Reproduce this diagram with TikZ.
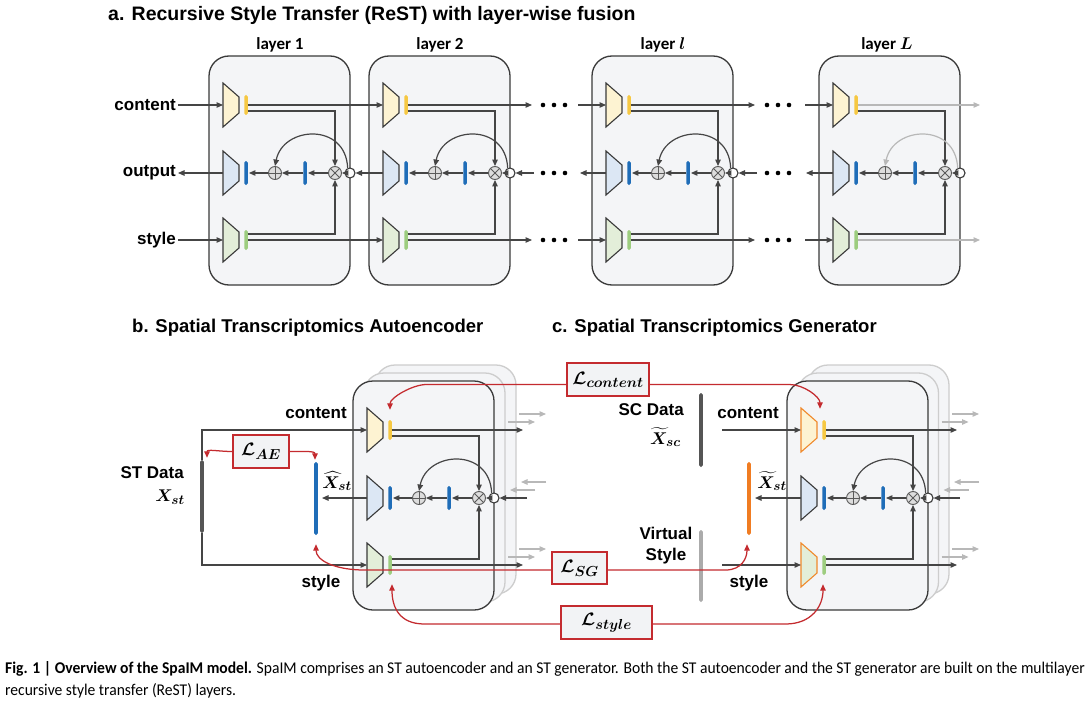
\documentclass[tikz,border=0pt]{standalone}
\usepackage{fix-cm}
\usepackage{amsmath}
\usepackage{fontspec}
\setmainfont{Liberation Sans}
\newfontfamily\calfont{Carlito}
\newfontfamily\capfont[FakeStretch=0.95]{Carlito}
\usepackage{bm}
\DeclareMathSizes{17}{17}{13.5}{11}
\DeclareMathSizes{18}{18}{14.5}{11.5}
\usetikzlibrary{arrows.meta,calc}
\pgfdeclarelayer{bg}
\pgfsetlayers{bg,main}

\definecolor{boxfill}{HTML}{F4F5F7}
\definecolor{boxline}{HTML}{3A3A3A}
\definecolor{arrowc}{HTML}{454545}
\definecolor{lightarr}{HTML}{B8B8B8}
\definecolor{backline}{HTML}{CDCDCD}
\definecolor{encY}{HTML}{FDF3D2}
\definecolor{encB}{HTML}{DCE7F4}
\definecolor{encG}{HTML}{E3EED9}
\definecolor{barY}{HTML}{F6C843}
\definecolor{barB}{HTML}{1F6DB8}
\definecolor{barG}{HTML}{9DCD7F}
\definecolor{opfill}{HTML}{DDDDDD}
\definecolor{opline}{HTML}{5A5A5A}
\definecolor{lossred}{HTML}{C42B2F}
\definecolor{lossfill}{HTML}{F2F3F5}
\definecolor{orangeE}{HTML}{F08A2C}
\definecolor{orangebar}{HTML}{F07C22}
\definecolor{stgray}{HTML}{555555}
\definecolor{vsgray}{HTML}{ABABAB}

\tikzset{
  arr/.style={draw=arrowc, line width=1.2pt, -{Triangle[length=6.5pt,width=5.5pt]}},
  garr/.style={draw=lightarr, line width=1.2pt, -{Triangle[length=6.5pt,width=5.5pt]}},
  redarr/.style={draw=lossred, line width=1.25pt, -{Triangle[length=6.5pt,width=5.5pt]}},
  layerbox/.style={rectangle, rounded corners=20pt, draw=boxline, line width=1.3pt, fill=boxfill, minimum width=141pt, minimum height=229pt, inner sep=0pt},
  backboxs/.style={rectangle, rounded corners=20pt, draw=backline, line width=1.3pt, fill=boxfill, minimum width=141pt, minimum height=229pt, inner sep=0pt},
  enc/.style={draw=boxline, line width=1.1pt, line join=miter},
  vbar/.style={rectangle, draw=none, minimum width=3.5pt, inner sep=0pt, rounded corners=1.6pt},
  databar/.style={rectangle, draw=none, minimum width=3.6pt, inner sep=0pt, rounded corners=1.6pt},
  oplus/.style={circle, draw=opline, fill=opfill, line width=0.9pt, minimum size=13pt, inner sep=0pt,
    path picture={\draw[opline, line width=0.9pt] (path picture bounding box.north) -- (path picture bounding box.south) (path picture bounding box.west) -- (path picture bounding box.east);}},
  otimes/.style={circle, draw=opline, fill=opfill, line width=0.9pt, minimum size=13pt, inner sep=0pt,
    path picture={\draw[opline, line width=0.9pt] (path picture bounding box.north west) -- (path picture bounding box.south east) (path picture bounding box.south west) -- (path picture bounding box.north east);}},
  junc/.style={circle, draw=boxline, fill=white, line width=1.1pt, minimum size=10pt, inner sep=0pt},
  lbl/.style={font=\fontsize{17}{21}\selectfont\bfseries, text=black, inner sep=2pt},
  ttl/.style={font=\fontsize{18.5}{22}\selectfont\bfseries, text=black, inner sep=0pt},
  layerlbl/.style={font=\calfont\fontsize{17}{20}\selectfont\bfseries, text=black, inner sep=0pt},
  mathlbl/.style={font=\fontsize{17}{20}\selectfont, inner sep=0pt},
  lossbox/.style={rectangle, draw=lossred, line width=1.1pt, fill=lossfill, inner sep=0pt, font=\fontsize{18}{21}\selectfont},
}

\newcommand{\threedots}[2]{%
  \fill[black] (#1-11,#2) circle (2.3pt) (#1,#2) circle (2.3pt) (#1+11,#2) circle (2.3pt);}

\newcommand{\backbox}[3]{%
  \begin{pgfonlayer}{bg}
    \node[backboxs] (#1) at (#2+70.5,#3+114.5) {};
  \end{pgfonlayer}
  \coordinate (#1ca) at (#2+144,#3+49);
  \coordinate (#1cb) at (#2+171,#3+49);
  \coordinate (#1ma) at (#2+171,#3+117);
  \coordinate (#1mb) at (#2+146,#3+117);
  \coordinate (#1sa) at (#2+144,#3+184);
  \coordinate (#1sb) at (#2+171,#3+184);
  \draw[garr] (#1ca) -- (#1cb);
  \draw[garr] (#1ma) -- (#1mb);
  \draw[garr] (#1sa) -- (#1sb);}

\newcommand{\resLayer}[5]{%
  \pgfmathsetmacro{\LX}{#2}%
  \pgfmathsetmacro{\LY}{#3}%
  \pgfmathsetmacro{\RC}{#3+49}%
  \pgfmathsetmacro{\RM}{#3+117}%
  \pgfmathsetmacro{\RS}{#3+184}%
  \begin{pgfonlayer}{bg}
    \node[layerbox] (#1box) at (\LX+70.5,\LY+114.5) {};
  \end{pgfonlayer}
  \draw[enc, draw=#4, fill=encY] (\LX+14,\RC-22) -- (\LX+30,\RC-8) -- (\LX+30,\RC+8) -- (\LX+14,\RC+22) -- cycle;
  \draw[enc, fill=encB] (\LX+14,\RM-22) -- (\LX+30,\RM-8) -- (\LX+30,\RM+8) -- (\LX+14,\RM+22) -- cycle;
  \draw[enc, draw=#4, fill=encG] (\LX+14,\RS-22) -- (\LX+30,\RS-8) -- (\LX+30,\RS+8) -- (\LX+14,\RS+22) -- cycle;
  \coordinate (#1cin) at (\LX+14,\RC);
  \coordinate (#1dl) at (\LX+14,\RM);
  \coordinate (#1sin) at (\LX+14,\RS);
  \node[vbar, fill=barY, minimum height=20pt] (#1by) at (\LX+37,\RC) {};
  \node[vbar, fill=barB, minimum height=24pt] (#1bb) at (\LX+37,\RM) {};
  \node[vbar, fill=barG, minimum height=20pt] (#1bg) at (\LX+37,\RS) {};
  \node[oplus] (#1plus) at (\LX+66,\RM) {};
  \node[vbar, fill=barB, minimum height=24pt] (#1bbb) at (\LX+96,\RM) {};
  \node[otimes] (#1times) at (\LX+126,\RM) {};
  \node[junc] (#1j) at (\LX+141,\RM) {};
  \coordinate (#1cx) at (\LX+38.5,\RC+6);
  \coordinate (#1sx) at (\LX+38.5,\RS-6);
  \coordinate (#1ca) at (\LX+38.5,\RC);
  \coordinate (#1sa) at (\LX+38.5,\RS);
  \draw[arr] (#1cx) -| (#1times.north);
  \draw[arr] (#1sx) -| (#1times.south);
  \draw[arr] (#1j) -- (#1times);
  \draw[arr, shorten >=1pt] (#1times) -- (#1bbb);
  \draw[arr] (#1bbb) -- (#1plus);
  \draw[arr, shorten >=1pt] (#1plus) -- (#1bb);
  \draw[arr, draw=#5] (#1j.115) .. controls +(-2,-46) and +(8,-40) .. (#1plus.north);}

\begin{document}
\begin{tikzpicture}[x=1pt,y=-1pt]
\useasboundingbox (0,0) rectangle (1092,706);
\begin{pgfonlayer}{bg}
\fill[white] (0,0) rectangle (1092,706);
\end{pgfonlayer}

% ---------------- a. ReST ----------------
\node[ttl, font=\fontsize{19.5}{23}\selectfont\bfseries, anchor=west] (ttla) at (108,15) {a. Recursive Style Transfer (ReST) with layer-wise fusion};

\resLayer{La}{209}{56}{boxline}{arrowc}
\resLayer{Lb}{369}{56}{boxline}{arrowc}
\resLayer{Lc}{592}{56}{boxline}{arrowc}
\resLayer{Ld}{819}{56}{boxline}{lightarr}

\node[layerlbl] (lay1) at (280,45) {layer 1};
\node[layerlbl] (lay2) at (440,45) {layer 2};
\node[layerlbl] (lay3) at (663,45) {layer $\bm{l}$};
\node[layerlbl] (lay4) at (887,45) {layer $\bm{L}$};

\node[lbl, anchor=east] (tcontent) at (178,105) {content};
\node[lbl, anchor=east] (toutput) at (178,173) {output};
\node[lbl, anchor=east] (tstyle) at (178,240) {style};
\draw[arr] (tcontent.east) -- (Lacin);
\draw[arr] (Ladl) -- (toutput.east);
\draw[arr] (tstyle.east) -- (Lasin);

\draw[arr] (Laca) -- (Lbcin);
\draw[arr] (Lbdl) -- (Laj);
\draw[arr] (Lasa) -- (Lbsin);

\coordinate (d1c) at (532,105);
\coordinate (d1m) at (534,173);
\coordinate (d1s) at (532,240);
\draw[arr] (Lbca) -- (d1c);
\draw[arr] (d1m) -- (Lbj);
\draw[arr] (Lbsa) -- (d1s);
\threedots{554}{105}
\threedots{554}{173}
\threedots{554}{240}
\coordinate (d2c) at (578,105);
\coordinate (d2m) at (580,173);
\coordinate (d2s) at (578,240);
\draw[arr] (d2c) -- (Lccin);
\draw[arr] (Lcdl) -- (d2m);
\draw[arr] (d2s) -- (Lcsin);

\coordinate (d3c) at (755,105);
\coordinate (d3m) at (757,173);
\coordinate (d3s) at (755,240);
\draw[arr] (Lcca) -- (d3c);
\draw[arr] (d3m) -- (Lcj);
\draw[arr] (Lcsa) -- (d3s);
\threedots{778}{105}
\threedots{778}{173}
\threedots{778}{240}
\coordinate (d4c) at (805,105);
\coordinate (d4m) at (806,173);
\coordinate (d4s) at (805,240);
\draw[arr] (d4c) -- (Ldcin);
\draw[arr] (Lddl) -- (d4m);
\draw[arr] (d4s) -- (Ldsin);

\coordinate (d5c) at (980,105);
\coordinate (d5s) at (980,240);
\draw[garr] (Ldca) -- (d5c);
\draw[garr] (Ldsa) -- (d5s);

% ---------------- b. Autoencoder ----------------
\node[ttl, anchor=west] (ttlb) at (132,328) {b. Spatial Transcriptomics Autoencoder};
\node[ttl, anchor=west] (ttlc) at (552,328) {c. Spatial Transcriptomics Generator};

\backbox{AbkB}{375}{365}
\backbox{AbkA}{364}{373}
\resLayer{A}{353}{381}{boxline}{arrowc}
\coordinate (Aco) at (523,430);
\coordinate (Ami) at (527,498);
\coordinate (Aso) at (523,565);
\draw[arr] (Aca) -- (Aco);
\draw[arr] (Ami) -- (Aj);
\draw[arr] (Asa) -- (Aso);

\node[databar, fill=stgray, minimum height=73pt] (stbar) at (202,496.5) {};
\draw[arr] (stbar.north) |- (Acin);
\draw[arr] (stbar.south) |- (Asin);
\node[lbl, anchor=east] (stlbl) at (186,473) {ST Data};
\node[mathlbl] (xst) at (170,497) {$\bm{X}_{\bm{st}}$};
\node[databar, fill=barB, minimum height=73pt] (xhat) at (316,498.5) {};
\draw[arr, shorten >=4pt] (Adl) -- (Adl -| xhat.east);
\node[mathlbl] (xhatlbl) at (337,481) {$\widehat{\bm{X}}_{\bm{st}}$};
\node[lbl] (aecont) at (316,413) {content};
\node[lbl] (aestyle) at (321,583) {style};

\node[lossbox, minimum width=56pt, minimum height=33pt] (lae) at (261,451.5) {$\bm{\mathcal{L}}_{\bm{AE}}$};
\draw[redarr] (lae.west) .. controls +(-14,0) and +(0,-9) .. ([xshift=5pt,yshift=2pt]stbar.north);
\draw[redarr] (lae.east) .. controls +(14,0) and +(0,-9) .. ([xshift=-1pt,yshift=2pt]xhat.north);

% ---------------- c. Generator ----------------
\backbox{GbkB}{808}{365}
\backbox{GbkA}{797.5}{373}
\resLayer{G}{787}{381}{orangeE}{arrowc}
\coordinate (Gco) at (957,430);
\coordinate (Gmi) at (960,498);
\coordinate (Gso) at (957,565);
\draw[arr] (Gca) -- (Gco);
\draw[arr] (Gmi) -- (Gj);
\draw[arr] (Gsa) -- (Gso);

\node[databar, fill=stgray, minimum height=74pt] (scbar) at (701,430) {};
\node[lbl, anchor=east] (sclbl) at (686,410) {SC Data};
\node[mathlbl, anchor=east] (xsc) at (681,437) {$\widetilde{\bm{X}}_{\bm{sc}}$};
\coordinate (gcs) at (722,430);
\draw[arr] (gcs) -- (Gcin);
\node[lbl] (gcont) at (748,413) {content};
\node[databar, fill=vsgray, minimum height=72pt] (vsbar) at (701,566) {};
\node[lbl, align=center] (vslbl) at (666,546) {Virtual\\Style};
\coordinate (gss) at (722,565);
\draw[arr] (gss) -- (Gsin);
\node[lbl] (gsty) at (749,583) {style};
\node[databar, fill=orangebar, minimum height=73pt] (obar) at (749,498.5) {};
\draw[arr, shorten >=4pt] (Gdl) -- (Gdl -| obar.east);
\node[mathlbl] (xtst) at (772,481) {$\widetilde{\bm{X}}_{\bm{st}}$};

% ---------------- losses ----------------
\node[lossbox, minimum width=82pt, minimum height=33pt] (lcont) at (608,379.5) {$\bm{\mathcal{L}}_{\bm{content}}$};
\coordinate (lcl) at ([yshift=-5pt]lcont.west);
\coordinate (lcr) at ([yshift=-5pt]lcont.east);
\draw[redarr] (lcl) -- ++(-140,0) .. controls +(-14,0) and +(0,-12) .. ([yshift=10pt]Aby.north);
\draw[redarr] (lcr) -- ++(140,0) .. controls +(14,0) and +(0,-12) .. ([xshift=-4pt,yshift=11pt]Gby.north);

\node[lossbox, minimum width=55pt, minimum height=32pt] (lsg) at (579.5,568) {$\bm{\mathcal{L}}_{\bm{SG}}$};
\coordinate (lsgl) at ([yshift=-2pt]lsg.west);
\coordinate (lsgr) at ([yshift=-2pt]lsg.east);
\draw[redarr] (lsgl) -- ++(-187,0) .. controls +(-30,0) and +(0,16) .. ([yshift=-9pt]xhat.south);
\draw[redarr] (lsgr) -- ++(118,0) .. controls +(16,0) and +(0,14) .. ([xshift=-2pt,yshift=-9pt]obar.south);

\node[lossbox, minimum width=91pt, minimum height=33pt] (lsty) at (606.5,622.5) {$\bm{\mathcal{L}}_{\bm{style}}$};
\coordinate (lstl) at ([yshift=-1.5pt]lsty.west);
\coordinate (lstr) at ([yshift=-1.5pt]lsty.east);
\draw[redarr] (lstl) -- ++(-136,0) .. controls +(-26,0) and +(0,22) .. ([xshift=2pt,yshift=-9pt]Abg.south);
\draw[redarr] (lstr) -- ++(133,0) .. controls +(26,0) and +(0,22) .. ([xshift=-1pt,yshift=-9pt]Gbg.south);

% ---------------- caption ----------------
\node[anchor=west, inner sep=0pt] (cap1) at (5,669) {\capfont\fontsize{16.4}{19}\selectfont\textbf{Fig. 1 | Overview of the SpaIM model.} SpaIM comprises an ST autoencoder and an ST generator. Both the ST autoencoder and the ST generator are built on the multilayer};
\node[anchor=west, inner sep=0pt] (cap2) at (5,691) {\capfont\fontsize{16.4}{19}\selectfont recursive style transfer (ReST) layers.};
\end{tikzpicture}
\end{document}
